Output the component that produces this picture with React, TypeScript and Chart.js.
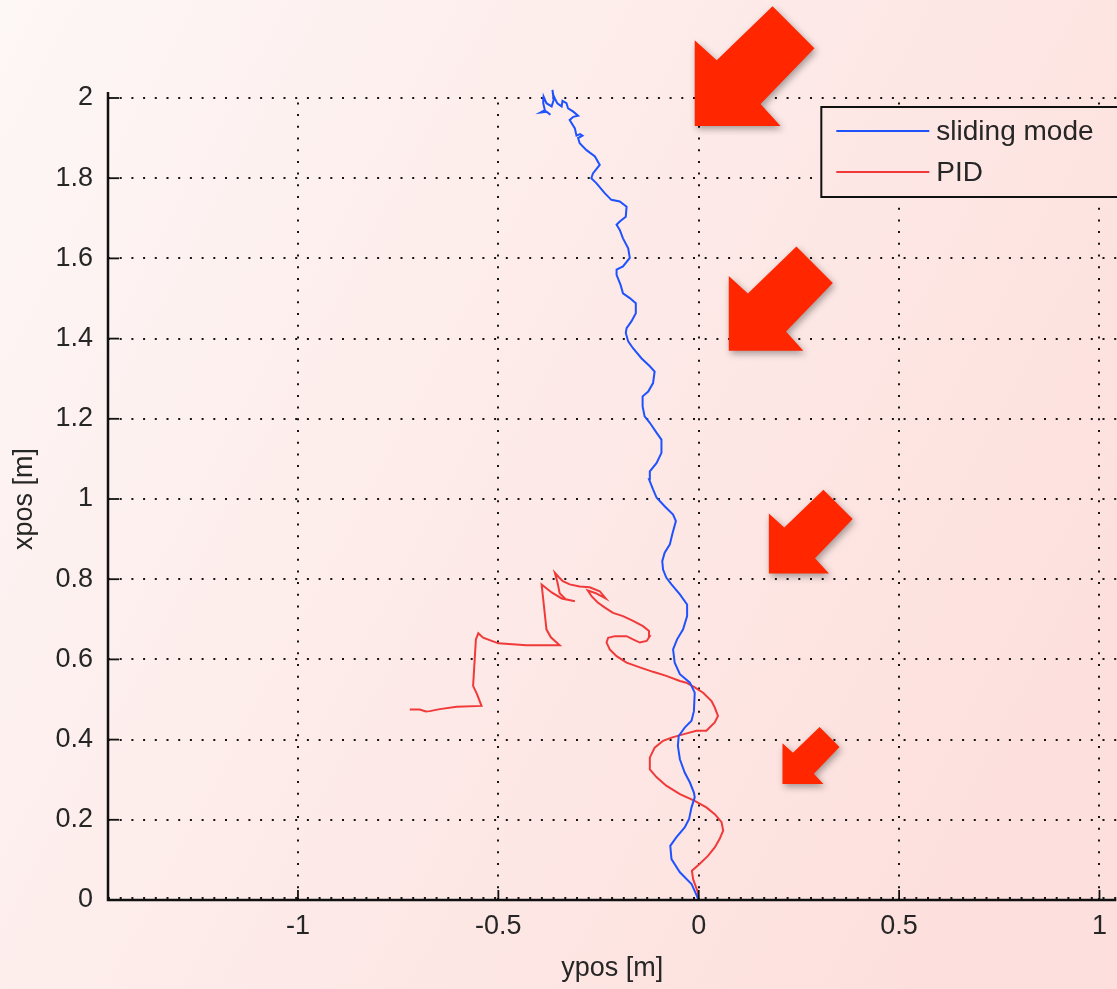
import React, { useEffect, useRef } from 'react';
import { Chart, registerables } from 'chart.js';

Chart.register(...registerables);

// ---- axis ticks ----
const xTicks = [-1, -0.5, 0, 0.5, 1];
const xTickLabels = ['-1', '-0.5', '0', '0.5', '1'];
const yTicks = [0, 0.2, 0.4, 0.6, 0.8, 1, 1.2, 1.4, 1.6, 1.8, 2];
const yTickLabels = ['0', '0.2', '0.4', '0.6', '0.8', '1', '1.2', '1.4', '1.6', '1.8', '2'];
const xRange = [-1.474, 1.042];
const yRange = [0, 2];
const xTitle = 'ypos [m]';
const yTitle = 'xpos [m]';
const seriesLabels = ['sliding mode', 'PID'];

// ---- sliding mode trajectory (ypos, xpos) ----
const slidingX = [
  0, -0.018, -0.047, -0.068, -0.071, -0.056, -0.035, -0.024, -0.018, -0.010, -0.012, -0.022, -0.035,
  -0.047, -0.052, -0.050, -0.035, -0.018, -0.012, -0.010, -0.022, -0.047, -0.060, -0.064, -0.054,
  -0.039, -0.029, -0.029, -0.047, -0.068, -0.081, -0.089, -0.091, -0.085, -0.072, -0.066, -0.057,
  -0.064, -0.085, -0.105, -0.114, -0.124, -0.122, -0.105, -0.093, -0.093, -0.105, -0.122, -0.135,
  -0.140, -0.140, -0.126, -0.114, -0.110, -0.122, -0.143, -0.164, -0.176, -0.182, -0.180, -0.168,
  -0.157, -0.157, -0.172, -0.189, -0.195, -0.205, -0.205, -0.189, -0.172, -0.176, -0.189, -0.197,
  -0.205, -0.197, -0.182, -0.180, -0.197, -0.218, -0.234, -0.255, -0.268, -0.264, -0.247, -0.259,
  -0.280, -0.297, -0.301, -0.290, -0.296, -0.305, -0.309, -0.322, -0.313, -0.301, -0.313, -0.326,
  -0.330, -0.340, -0.342, -0.353, -0.359, -0.363, -0.365, -0.362, -0.367, -0.380, -0.387, -0.388,
  -0.384, -0.395, -0.380, -0.370,
];
const slidingY = [
  0, 0.040, 0.069, 0.102, 0.135, 0.156, 0.181, 0.202, 0.231, 0.256, 0.268, 0.293, 0.318,
  0.351, 0.384, 0.409, 0.430, 0.447, 0.471, 0.517, 0.542, 0.563, 0.592, 0.625, 0.650,
  0.675, 0.708, 0.737, 0.762, 0.787, 0.804, 0.824, 0.845, 0.866, 0.887, 0.912, 0.945,
  0.961, 0.982, 1.003, 1.024, 1.049, 1.069, 1.090, 1.115, 1.148, 1.165, 1.190, 1.206,
  1.231, 1.256, 1.268, 1.289, 1.318, 1.331, 1.351, 1.376, 1.393, 1.414, 1.426, 1.443,
  1.463, 1.488, 1.501, 1.513, 1.534, 1.559, 1.572, 1.580, 1.601, 1.625, 1.650, 1.671,
  1.684, 1.692, 1.704, 1.729, 1.742, 1.746, 1.762, 1.787, 1.800, 1.812, 1.833, 1.854,
  1.870, 1.887, 1.900, 1.906, 1.910, 1.906, 1.924, 1.945, 1.953, 1.956, 1.966, 1.974,
  1.987, 1.993, 1.979, 1.987, 1.999, 2.008, 2.020, 1.995, 1.979, 1.987, 2.003, 1.987,
  1.970, 1.964, 1.966, 1.958,
];

// ---- PID trajectory (ypos, xpos) ----
const pidX = [
  0, -0.002, -0.014, -0.017, 0.002, 0.023, 0.040, 0.052, 0.061, 0.057, 0.040, 0.019, -0.010,
  -0.047, -0.081, -0.105, -0.122, -0.122, -0.110, -0.089, -0.068, -0.039, -0.006, 0.019, 0.040,
  0.048, 0.040, 0.032, 0.011, -0.010, -0.031, -0.047, -0.081, -0.114, -0.147, -0.180, -0.205,
  -0.222, -0.230, -0.226, -0.209, -0.180, -0.164, -0.147, -0.130, -0.122, -0.124, -0.139, -0.164,
  -0.189, -0.214, -0.234, -0.252, -0.267, -0.277, -0.257, -0.232, -0.247, -0.272, -0.297, -0.322,
  -0.339, -0.349, -0.359, -0.352, -0.347, -0.332, -0.309, -0.342, -0.367, -0.392, -0.388, -0.380,
  -0.369, -0.347, -0.430, -0.500, -0.538, -0.550, -0.556, -0.559, -0.563, -0.553, -0.542, -0.604,
  -0.646, -0.671, -0.681, -0.696, -0.721,
];
const pidY = [
  0, 0.019, 0.052, 0.073, 0.090, 0.110, 0.131, 0.152, 0.173, 0.194, 0.214, 0.231, 0.247,
  0.264, 0.285, 0.306, 0.326, 0.355, 0.380, 0.397, 0.405, 0.413, 0.422, 0.422, 0.443,
  0.459, 0.480, 0.496, 0.517, 0.530, 0.542, 0.546, 0.559, 0.569, 0.580, 0.592, 0.608,
  0.625, 0.642, 0.654, 0.658, 0.658, 0.650, 0.642, 0.646, 0.658, 0.671, 0.683, 0.696,
  0.708, 0.716, 0.729, 0.742, 0.757, 0.772, 0.765, 0.752, 0.770, 0.780, 0.782, 0.787,
  0.795, 0.805, 0.816, 0.790, 0.765, 0.750, 0.745, 0.752, 0.767, 0.787, 0.750, 0.675,
  0.655, 0.635, 0.635, 0.640, 0.654, 0.665, 0.650, 0.600, 0.534, 0.513, 0.484, 0.482,
  0.476, 0.471, 0.470, 0.475, 0.475,
];

// ---- red arrow annotations (corner position in data units, size in y units) ----
const arrowX = [-0.01, 0.075, 0.175, 0.209];
const arrowY = [1.93, 1.37, 0.814, 0.289];
const arrowSize = [0.214, 0.186, 0.15, 0.102];

const FONT = "'Liberation Sans', Arial, sans-serif";
const TEXT_COLOR = '#262626';

function makeBg(ctx: CanvasRenderingContext2D, width: number, height: number) {
  const g = ctx.createLinearGradient(0, 0, width, height * 0.6);
  g.addColorStop(0, '#fdf7f6');
  g.addColorStop(0.5, '#fdebe9');
  g.addColorStop(1, '#fde0dd');
  return g;
}

const backgroundPlugin = {
  id: 'bg',
  beforeDraw(chart: any) {
    const { ctx, width, height } = chart;
    ctx.save();
    ctx.fillStyle = makeBg(ctx, width, height);
    ctx.fillRect(0, 0, width, height);
    ctx.restore();
  },
};

const gridPlugin = {
  id: 'matlabGrid',
  beforeDatasetsDraw(chart: any) {
    const { ctx, chartArea: a, scales } = chart;
    const x = scales.x;
    const y = scales.y;
    ctx.save();
    ctx.strokeStyle = '#151515';
    ctx.lineWidth = 2;
    ctx.setLineDash([2, 9.7]);
    xTicks.forEach((v) => {
      const px = Math.round(x.getPixelForValue(v));
      ctx.beginPath();
      ctx.moveTo(px, a.bottom);
      ctx.lineTo(px, a.top);
      ctx.stroke();
    });
    yTicks.forEach((v) => {
      const py = Math.round(y.getPixelForValue(v)) - (v === 0 ? 2 : 0);
      ctx.beginPath();
      ctx.moveTo(a.left, py);
      ctx.lineTo(a.right, py);
      ctx.stroke();
    });
    ctx.restore();
  },
  afterDatasetsDraw(chart: any) {
    const { ctx, chartArea: a, scales } = chart;
    const x = scales.x;
    const y = scales.y;
    ctx.save();
    ctx.strokeStyle = '#111';
    ctx.lineWidth = 2.5;
    ctx.beginPath();
    ctx.moveTo(a.left, a.top - 6);
    ctx.lineTo(a.left, a.bottom);
    ctx.lineTo(a.right, a.bottom);
    ctx.stroke();
    ctx.lineWidth = 1.8;
    xTicks.forEach((v) => {
      const px = x.getPixelForValue(v);
      ctx.beginPath();
      ctx.moveTo(px, a.bottom);
      ctx.lineTo(px, a.bottom - 10);
      ctx.stroke();
    });
    yTicks.forEach((v) => {
      const py = y.getPixelForValue(v);
      ctx.beginPath();
      ctx.moveTo(a.left, py);
      ctx.lineTo(a.left + 11, py);
      ctx.stroke();
    });
    ctx.restore();
  },
};

const legendPlugin = {
  id: 'boxLegend',
  afterDraw(chart: any) {
    const { ctx, chartArea: a, width, height } = chart;
    const left = a.right - 295;
    const top = a.top + 9;
    ctx.save();
    ctx.fillStyle = makeBg(ctx, width, height);
    ctx.fillRect(left, top, 400, 90);
    ctx.strokeStyle = '#111';
    ctx.lineWidth = 2;
    ctx.strokeRect(left, top, 400, 90);
    chart.data.datasets.forEach((ds: any, i: number) => {
      const cy = top + 24 + i * 41;
      ctx.strokeStyle = ds.borderColor;
      ctx.lineWidth = 2;
      ctx.beginPath();
      ctx.moveTo(left + 15, cy);
      ctx.lineTo(left + 108, cy);
      ctx.stroke();
      ctx.fillStyle = TEXT_COLOR;
      ctx.font = `28px ${FONT}`;
      ctx.textBaseline = 'middle';
      ctx.textAlign = 'left';
      ctx.fillText(ds.label, left + 115, cy + 1);
    });
    ctx.restore();
  },
};

const arrowPlugin = {
  id: 'arrows',
  afterDraw(chart: any) {
    const { ctx, scales } = chart;
    const x = scales.x;
    const y = scales.y;
    const unit = Math.abs(y.getPixelForValue(1) - y.getPixelForValue(0));
    const shape = [
      [0, 0], [0, -1], [0.256, -0.767], [0.907, -1.395], [1.395, -0.907], [0.767, -0.256], [1, 0],
    ];
    arrowX.forEach((ax, i) => {
      const cx = x.getPixelForValue(ax);
      const cy = y.getPixelForValue(arrowY[i]);
      const s = arrowSize[i] * unit;
      ctx.save();
      ctx.shadowColor = 'rgba(0,0,0,0.35)';
      ctx.shadowBlur = 7;
      ctx.shadowOffsetX = 2;
      ctx.shadowOffsetY = 3;
      ctx.fillStyle = '#ff2600';
      ctx.beginPath();
      shape.forEach(([u, v], k) => {
        const px = cx + u * s;
        const py = cy + v * s;
        if (k === 0) ctx.moveTo(px, py);
        else ctx.lineTo(px, py);
      });
      ctx.closePath();
      ctx.fill();
      ctx.restore();
    });
  },
};

export default function App() {
  const canvasRef = useRef<HTMLCanvasElement | null>(null);

  useEffect(() => {
    if (!canvasRef.current) return;
    const chart = new Chart(canvasRef.current, {
      type: 'scatter',
      data: {
        datasets: [
          {
            label: seriesLabels[0],
            data: slidingX.map((v, i) => ({ x: v, y: slidingY[i] })),
            showLine: true,
            borderColor: '#1f52ff',
            borderWidth: 2,
            pointRadius: 0,
            tension: 0,
            clip: false as any,
          },
          {
            label: seriesLabels[1],
            data: pidX.map((v, i) => ({ x: v, y: pidY[i] })),
            showLine: true,
            borderColor: '#f03a3a',
            borderWidth: 2,
            pointRadius: 0,
            tension: 0,
            clip: false as any,
          },
        ],
      },
      options: {
        animation: false,
        responsive: false,
        devicePixelRatio: 1,
        layout: { padding: { top: 98, right: 0, left: 0, bottom: 0 } },
        plugins: {
          legend: { display: false },
          tooltip: { enabled: false },
        },
        scales: {
          x: {
            type: 'linear',
            min: xRange[0],
            max: xRange[1],
            afterBuildTicks: (scale: any) => {
              scale.ticks = xTicks.map((v) => ({ value: v }));
            },
            afterFit: (scale: any) => {
              scale.height = 89;
            },
            grid: { display: false, drawTicks: false },
            border: { display: false },
            ticks: {
              padding: 10,
              maxRotation: 0,
              autoSkip: false,
              color: TEXT_COLOR,
              font: { family: FONT, size: 27 },
              callback: (_v: any, i: number) => xTickLabels[i],
            },
            title: {
              display: true,
              text: xTitle,
              color: TEXT_COLOR,
              font: { family: FONT, size: 27 },
              padding: { top: 0, bottom: 4 },
            },
          },
          y: {
            type: 'linear',
            min: yRange[0],
            max: yRange[1],
            afterBuildTicks: (scale: any) => {
              scale.ticks = yTicks.map((v) => ({ value: v }));
            },
            afterFit: (scale: any) => {
              scale.width = 108;
            },
            grid: { display: false, drawTicks: false },
            border: { display: false },
            ticks: {
              padding: 15,
              autoSkip: false,
              color: TEXT_COLOR,
              font: { family: FONT, size: 27 },
              callback: (_v: any, i: number) => yTickLabels[i],
            },
            title: {
              display: true,
              text: yTitle,
              color: TEXT_COLOR,
              font: { family: FONT, size: 27 },
              padding: { top: 8, bottom: 0 },
            },
          },
        },
      },
      plugins: [backgroundPlugin, gridPlugin, legendPlugin, arrowPlugin],
    });
    return () => chart.destroy();
  }, []);

  return (
    <div style={{ position: 'fixed', left: 0, top: 0, width: 1117, height: 989, overflow: 'hidden' }}>
      <canvas ref={canvasRef} width={1117} height={989} style={{ display: 'block' }} />
    </div>
  );
}
